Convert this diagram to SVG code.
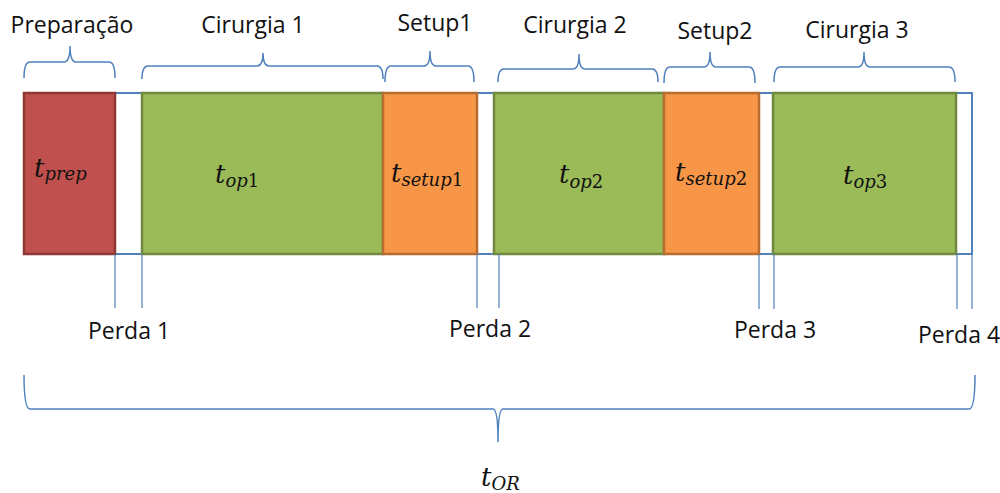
<svg xmlns="http://www.w3.org/2000/svg" width="1000" height="493" viewBox="0 0 1000 493">
  <style>
    .lbl { font-family: "Open Sans", "Liberation Sans", sans-serif; font-size: 23px; fill: #111; text-anchor: middle; }
    .math { font-family: "DejaVu Serif", "Liberation Serif", serif; font-style: italic; fill: #111; }
    .t { font-size: 26px; }
    .sub { font-size: 18px; }
    .num { font-style: normal; }
    .brace { fill: none; stroke: #4F81BD; stroke-width: 1.5; }
    .tick { stroke: #4F81BD; stroke-width: 1.2; }
    .prep { fill: #C0504D; stroke: #8C3836; stroke-width: 2.5; }
    .op { fill: #9BBB59; stroke: #71893F; stroke-width: 2.5; }
    .setup { fill: #F79646; stroke: #B66D31; stroke-width: 2.5; }
  </style>

  <!-- overall timeline frame -->
  <g id="timeline">
    <rect x="24" y="93" width="948" height="161" fill="#ffffff" stroke="#4F81BD" stroke-width="2"/>
  </g>

  <!-- time blocks -->
  <g id="block-prep">
    <rect class="prep" x="24" y="93" width="91" height="161"/>
    <text class="math" x="34" y="177"><tspan class="t">t</tspan><tspan class="sub" dy="3">prep</tspan></text>
  </g>
  <g id="block-op1">
    <rect class="op" x="142" y="93" width="241" height="161"/>
    <text class="math" x="215" y="183"><tspan class="t">t</tspan><tspan class="sub" dy="4">op<tspan class="num">1</tspan></tspan></text>
  </g>
  <g id="block-setup1">
    <rect class="setup" x="383" y="93" width="94" height="161"/>
    <text class="math" x="391" y="182"><tspan class="t">t</tspan><tspan class="sub" dy="4">setup<tspan class="num">1</tspan></tspan></text>
  </g>
  <g id="block-op2">
    <rect class="op" x="494" y="93" width="170" height="161"/>
    <text class="math" x="559" y="183"><tspan class="t">t</tspan><tspan class="sub" dy="5">op<tspan class="num">2</tspan></tspan></text>
  </g>
  <g id="block-setup2">
    <rect class="setup" x="664" y="93" width="95" height="161"/>
    <text class="math" x="675" y="181"><tspan class="t">t</tspan><tspan class="sub" dy="4">setup<tspan class="num">2</tspan></tspan></text>
  </g>
  <g id="block-op3">
    <rect class="op" x="773" y="93" width="183" height="161"/>
    <text class="math" x="843" y="184"><tspan class="t">t</tspan><tspan class="sub" dy="4">op<tspan class="num">3</tspan></tspan></text>
  </g>

  <!-- braces and loss markers -->
  <g id="connectors">
    <path class="brace" d="M24,78 Q24,62 30,62 L64,62 Q70,62 70,46 Q70,62 76,62 L109,62 Q115,62 115,78"/>
    <path class="brace" d="M142,79 Q142,66 148,66 L257,66 Q263,66 263,53 Q263,66 269,66 L377,66 Q383,66 383,79"/>
    <path class="brace" d="M385,82 Q385,66 391,66 L424,66 Q430,66 430,51 Q430,66 436,66 L468,66 Q474,66 474,82"/>
    <path class="brace" d="M498,82 Q498,69 504,69 L573,69 Q579,69 579,54 Q579,69 585,69 L652,69 Q658,69 658,82"/>
    <path class="brace" d="M664,83 Q664,67 670,67 L704,67 Q710,67 710,52 Q710,67 716,67 L749,67 Q755,67 755,83"/>
    <path class="brace" d="M774,82 Q774,67 780,67 L858,67 Q864,67 864,52 Q864,67 870,67 L949,67 Q955,67 955,82"/>
    <path class="brace" d="M24,375 Q24,409 30,409 L493,409 Q498,409 498,442 Q498,409 503,409 L969,409 Q975,409 975,375"/>

    <line class="tick" x1="115" y1="254" x2="115" y2="308"/>
    <line class="tick" x1="142" y1="254" x2="142" y2="308"/>
    <line class="tick" x1="477" y1="254" x2="477" y2="308"/>
    <line class="tick" x1="499" y1="254" x2="499" y2="308"/>
    <line class="tick" x1="759" y1="254" x2="759" y2="309"/>
    <line class="tick" x1="774" y1="254" x2="774" y2="309"/>
    <line class="tick" x1="957" y1="254" x2="957" y2="309"/>
    <line class="tick" x1="972" y1="254" x2="972" y2="309"/>
  </g>

  <!-- phase labels -->
  <g id="labels">
    <text class="lbl" x="72" y="33">Preparação</text>
    <text class="lbl" x="253" y="33">Cirurgia 1</text>
    <text class="lbl" x="435" y="31">Setup1</text>
    <text class="lbl" x="575" y="33">Cirurgia 2</text>
    <text class="lbl" x="715" y="39">Setup2</text>
    <text class="lbl" x="857" y="38">Cirurgia 3</text>

    <text class="lbl" x="129" y="339">Perda 1</text>
    <text class="lbl" x="490" y="337">Perda 2</text>
    <text class="lbl" x="775" y="338">Perda 3</text>
    <text class="lbl" x="959" y="343">Perda 4</text>

    <text class="math" x="481" y="486"><tspan class="t">t</tspan><tspan class="sub" dy="4">OR</tspan></text>
  </g>
</svg>
